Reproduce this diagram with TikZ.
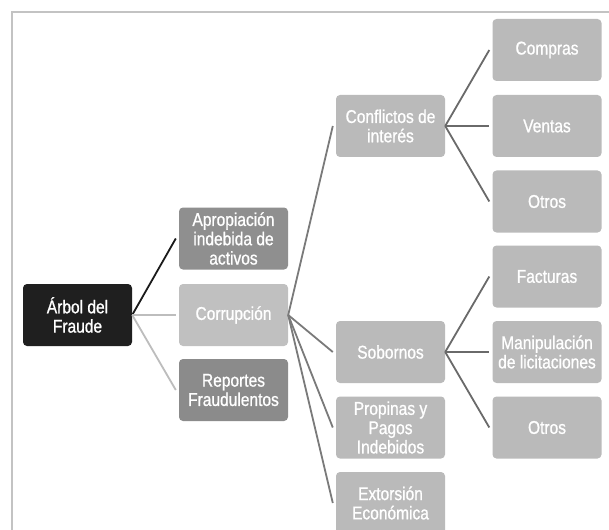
\documentclass[tikz,border=0pt]{standalone}
\usepackage{fontspec}
\setmainfont[FakeStretch=0.84,FakeBold=0.9]{Liberation Sans}
\definecolor{rootfill}{HTML}{1F1F1F}
\definecolor{midfill}{HTML}{8F8F8F}
\definecolor{corrfill}{HTML}{C0C0C0}
\definecolor{lightfill}{HTML}{BABABA}
\definecolor{framecol}{HTML}{C3C3C3}
\definecolor{lineblack}{HTML}{1A1A1A}
\definecolor{linelight}{HTML}{BDBDBD}
\definecolor{linemid}{HTML}{7A7A7A}
\definecolor{linedark}{HTML}{6A6A6A}
\begin{document}
\begin{tikzpicture}[x=1pt,y=-1pt,
  box/.style={rectangle, rounded corners=4pt, minimum width=109pt, minimum height=62pt,
    inner sep=0pt, align=center, text=white, font=\fontsize{18.5}{19.3}\selectfont},
  rootbox/.style={box, fill=rootfill},
  midbox/.style={box, fill=midfill},
  corrbox/.style={box, fill=corrfill},
  leafbox/.style={box, fill=lightfill},
  diag/.style={line width=1.8pt},
  horiz/.style={line width=2.4pt}]
\clip (0,0) rectangle (609,529);
\fill[white] (0,0) rectangle (609,529);
\draw[framecol, line width=2pt] (12,560) -- (12,12) -- (640,12);

\node[rootbox] (arbol) at (77.5,315) {Árbol del\\Fraude};
\node[midbox] (aprop) at (233.5,238.5) {Apropiación\\indebida de\\activos};
\node[corrbox] (corr) at (233.5,315) {Corrupción};
\node[midbox, fill=midfill!97!black] (report) at (233.5,390) {Reportes\\Fraudulentos};

\node[leafbox] (confl) at (390.5,126) {Conflictos de\\interés};
\node[leafbox] (sobor) at (390.5,352) {Sobornos};
\node[leafbox] (propi) at (390.5,427.5) {Propinas y\\Pagos\\Indebidos};
\node[leafbox] (extor) at (390.5,503) {Extorsión\\Económica};

\node[leafbox] (compras) at (547,50) {Compras};
\node[leafbox] (ventas) at (547,126) {Ventas};
\node[leafbox] (otros1) at (547,201.5) {Otros};
\node[leafbox] (factur) at (547,276.5) {Facturas};
\node[leafbox] (manip) at (547,352) {Manipulación\\de licitaciones};
\node[leafbox] (otros2) at (547,427.5) {Otros};

\draw[diag, lineblack] (arbol.east) -- ([xshift=-3pt]aprop.west);
\draw[horiz, linelight, line width=2pt] (arbol.east) -- ([xshift=-3pt]corr.west);
\draw[diag, linelight] (arbol.east) -- ([xshift=-3pt]report.west);

\draw[diag, linemid] (corr.east) -- ([xshift=-3pt]confl.west);
\draw[diag, linemid] (corr.east) -- ([xshift=-3pt]sobor.west);
\draw[diag, linemid] (corr.east) -- ([xshift=-3pt]propi.west);
\draw[diag, linemid] (corr.east) -- ([xshift=-3pt]extor.west);

\draw[diag, linedark] (confl.east) -- ([xshift=-3pt]compras.west);
\draw[horiz, linedark] (confl.east) -- ([xshift=-3pt]ventas.west);
\draw[diag, linedark] (confl.east) -- ([xshift=-3pt]otros1.west);

\draw[diag, linedark] (sobor.east) -- ([xshift=-3pt]factur.west);
\draw[horiz, linedark] (sobor.east) -- ([xshift=-3pt]manip.west);
\draw[diag, linedark] (sobor.east) -- ([xshift=-3pt]otros2.west);
\end{tikzpicture}
\end{document}
